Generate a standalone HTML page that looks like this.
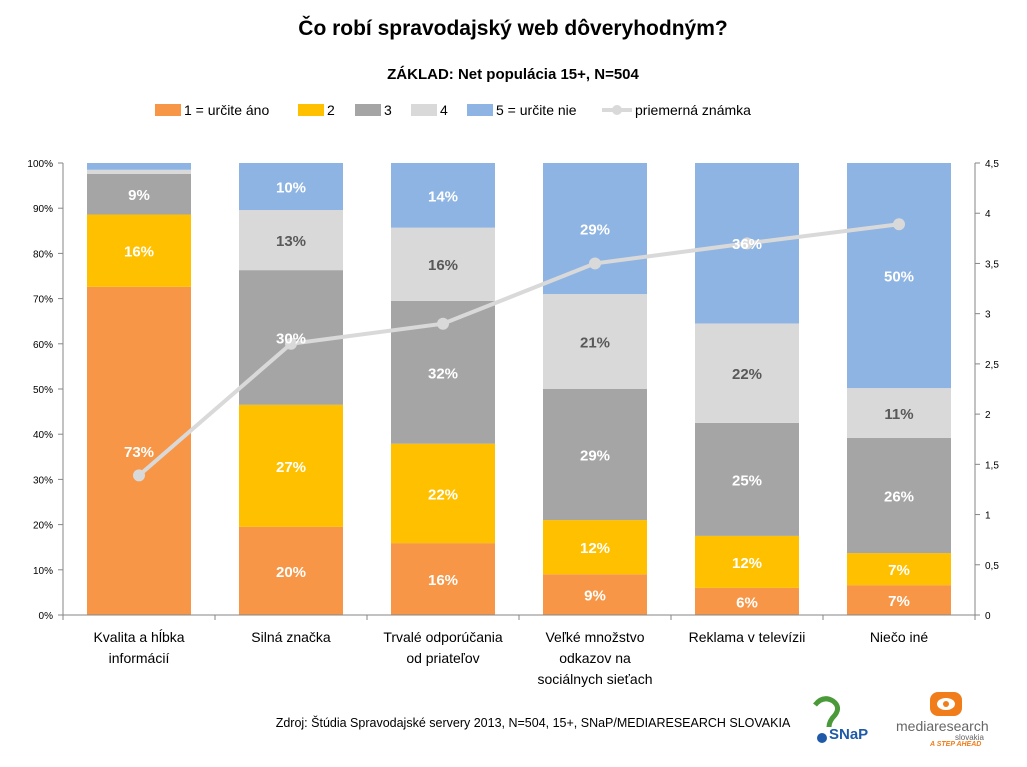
<!DOCTYPE html>
<html><head><meta charset="utf-8"><style>
body{margin:0;background:#fff;width:1027px;height:762px;overflow:hidden;font-family:"Liberation Sans",sans-serif}
</style></head><body>
<svg id="c" width="1027" height="762" xmlns="http://www.w3.org/2000/svg" font-family="Liberation Sans, sans-serif">
<text x="513" y="35" text-anchor="middle" font-size="21" font-weight="bold">Čo robí spravodajský web dôveryhodným?</text>
<text x="513" y="79" text-anchor="middle" font-size="15" font-weight="bold">ZÁKLAD: Net populácia 15+, N=504</text>
<g id="legend"></g>
<g id="grid"></g><g id="bars"></g><g id="line"></g><g id="labels"></g><g id="axes"></g>
<text x="533" y="727" text-anchor="middle" font-size="12.5">Zdroj:  Štúdia Spravodajské servery 2013, N=504, 15+, SNaP/MEDIARESEARCH SLOVAKIA</text>
<g>
<path d="M815 705 q8 -10 18 -4 q8 6 2 14 q-6 6 -6 12" stroke="#4a9a3a" stroke-width="5" fill="none"/>
<circle cx="822" cy="738" r="5" fill="#1e5aa8"/>
<text x="829" y="739" font-size="15" font-weight="bold" fill="#1e5aa8">SNaP</text></g>
<g>
<rect x="930" y="692" width="32" height="24" rx="8" fill="#f07d1a"/><ellipse cx="946" cy="704" rx="9" ry="6" fill="#fff"/><circle cx="946" cy="704" r="3" fill="#f07d1a"/>
<text x="896" y="731" font-size="14" fill="#666">mediaresearch</text>
<text x="955" y="740" font-size="8" fill="#666">slovakia</text>
<text x="930" y="746" font-size="7" font-weight="bold" font-style="italic" fill="#f07d1a">A STEP AHEAD</text></g>
</svg>
<script>
const categories=[["Kvalita a hĺbka","informácií"],["Silná značka"],["Trvalé odporúčania","od priateľov"],["Veľké množstvo","odkazov na","sociálnych sieťach"],["Reklama v televízii"],["Niečo iné"]];
const seriesNames=["1 = určite áno","2","3","4","5 = určite nie"];
const s1=[72.6,19.5,15.9,9,6,6.6];
const s2=[16,27,22,12,11.5,7.1];
const s3=[9,29.8,31.6,29,25,25.5];
const s4=[0.9,13.3,16.2,21,22,11];
const s5=[1.5,10.4,14.3,29,35.5,49.8];
const l1=["73%","20%","16%","9%","6%","7%"];
const l2=["16%","27%","22%","12%","12%","7%"];
const l3=["9%","30%","32%","29%","25%","26%"];
const l4=["","13%","16%","21%","22%","11%"];
const l5=["","10%","14%","29%","36%","50%"];
const avg=[1.39,2.70,2.90,3.50,3.70,3.89];
const leftTicks=["0%","10%","20%","30%","40%","50%","60%","70%","80%","90%","100%"];
const rightTicks=["0","0,5","1","1,5","2","2,5","3","3,5","4","4,5"];
const colors=["#f79646","#ffc000","#a5a5a5","#d9d9d9","#8eb4e3"];
const labelColors=["#fff","#fff","#fff","#595959","#fff"];
const X0=63,X1=975,Y0=615,Y1=163;
const yP=v=>Y0-(v/100)*(Y0-Y1);
const yR=v=>Y0-(v/4.5)*(Y0-Y1);
const band=(X1-X0)/categories.length;
const xC=i=>X0+band*(i+0.5);
const NS="http://www.w3.org/2000/svg";
function mk(t,a,p,txt){const e=document.createElementNS(NS,t);for(const k in a)e.setAttribute(k,a[k]);if(txt!==undefined)e.textContent=txt;p.appendChild(e);return e;}
const gA=document.getElementById('axes'),gB=document.getElementById('bars'),gL=document.getElementById('line'),gLg=document.getElementById('legend'),gT=document.getElementById('labels');
mk('line',{x1:X0,y1:Y1,x2:X0,y2:Y0,stroke:'#868686'},gA);
mk('line',{x1:X0,y1:Y0,x2:X1,y2:Y0,stroke:'#868686'},gA);
mk('line',{x1:X1,y1:Y1,x2:X1,y2:Y0,stroke:'#868686'},gA);
leftTicks.forEach((t,i)=>{const y=yP(i*10);mk('line',{x1:X0-5,y1:y,x2:X0,y2:y,stroke:'#868686'},gA);
const e=mk('text',{x:X0-10,y:y+4,'text-anchor':'end','font-size':10},gA,t);

});
rightTicks.forEach((t,i)=>{const y=yR(i*0.5);mk('line',{x1:X1,y1:y,x2:X1+5,y2:y,stroke:'#868686'},gA);
const e=mk('text',{x:X1+10,y:y+4,'font-size':10},gA,t);

});
for(let i=0;i<=categories.length;i++){const x=X0+band*i;mk('line',{x1:x,y1:Y0,x2:x,y2:Y0+5,stroke:'#868686'},gA);}
categories.forEach((c,i)=>{c.forEach((ln,j)=>{const e=mk('text',{x:xC(i),y:642+j*21,'text-anchor':'middle','font-size':14},gA,ln);

});});
const series=[s1,s2,s3,s4,s5],labels=[l1,l2,l3,l4,l5];
const bw=104;
categories.forEach((c,i)=>{let cum=0;series.forEach((s,k)=>{const v=s[i];const yt=yP(cum+v),yb=yP(cum);
const r=mk('rect',{x:xC(i)-bw/2,y:yt,width:bw,height:yb-yt,fill:colors[k]},gB);


if(labels[k][i]){const t=mk('text',{x:xC(i),y:(yt+yb)/2+6,'text-anchor':'middle','font-size':15,'font-weight':'bold',fill:labelColors[k]},gT,labels[k][i]);

}
cum+=v;});});
const pts=avg.map((v,i)=>xC(i)+','+yR(v)).join(' ');
const pl=mk('polyline',{points:pts,fill:'none',stroke:'#d9d9d9','stroke-width':4},gL);


avg.forEach((v,i)=>{const p=mk('circle',{cx:xC(i),cy:yR(v),r:6,fill:'#d9d9d9'},gL);

});
const lx=[155,298,355,411,467];
seriesNames.forEach((n,k)=>{const g=mk('g',{},gLg);


mk('rect',{x:lx[k],y:104,width:26,height:12,fill:colors[k]},g);
mk('text',{x:lx[k]+29,y:115,'font-size':14},g,n);});
const g=mk('g',{},gLg);


mk('line',{x1:602,y1:110,x2:632,y2:110,stroke:'#d9d9d9','stroke-width':4},g);
mk('circle',{cx:617,cy:110,r:5,fill:'#d9d9d9'},g);
mk('text',{x:635,y:115,'font-size':14},g,'priemerná známka');
</script>
</body></html>
